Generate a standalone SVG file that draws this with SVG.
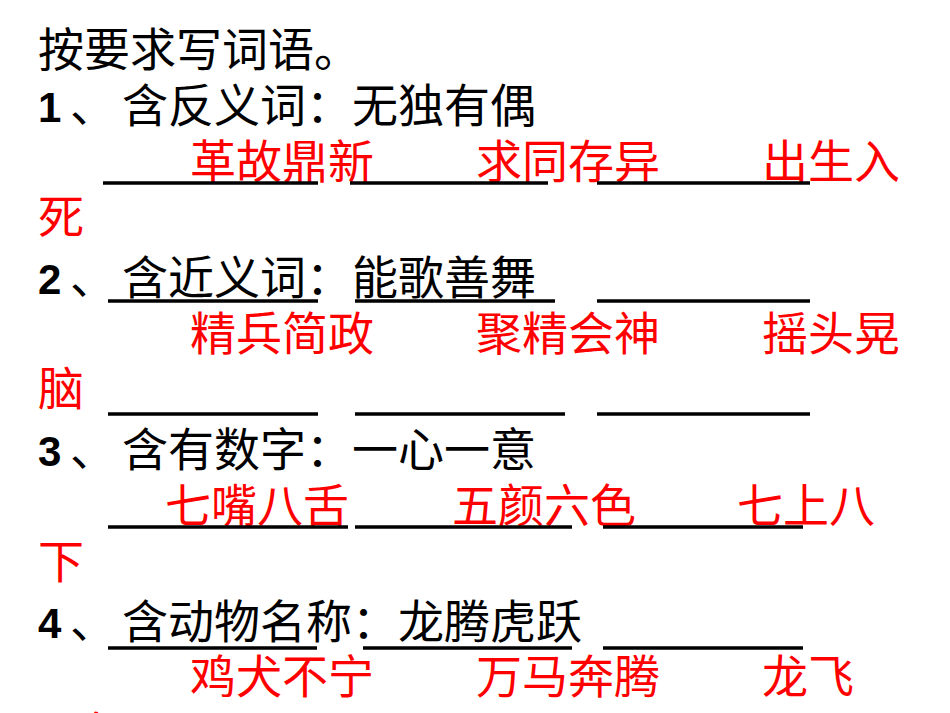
<svg xmlns="http://www.w3.org/2000/svg" width="950" height="713" viewBox="0 0 950 713">
<style>
text{font-family:"Noto Sans CJK SC","Liberation Sans",sans-serif;font-size:46px}
.k{fill:#000}
.r{fill:#ff0000}
.n{font-family:"Liberation Sans",sans-serif;font-weight:bold;font-size:42px}
line{stroke:#000;stroke-width:3.5}
</style>
<rect width="950" height="713" fill="#fff"/>
<g id="title"><text class="k" x="38" y="66">按要求写词语。</text></g>
<g id="q1">
<text class="k n" x="38" y="122">1</text><text class="k" x="70" y="122">、</text><text class="k" x="122" y="122">含反义词：无独有偶</text>
<text class="r" x="190" y="178">革故鼎新</text>
<text class="r" x="476" y="178">求同存异</text>
<text class="r" x="762" y="178">出生入</text>
<text class="r" x="38" y="233">死</text>
</g>
<g id="q2">
<text class="k n" x="38" y="294">2</text><text class="k" x="70" y="294">、</text><text class="k" x="122" y="294">含近义词：能歌善舞</text>
<text class="r" x="190" y="350">精兵简政</text>
<text class="r" x="476" y="350">聚精会神</text>
<text class="r" x="762" y="350">摇头晃</text>
<text class="r" x="38" y="405">脑</text>
</g>
<g id="q3">
<text class="k n" x="38" y="466">3</text><text class="k" x="70" y="466">、</text><text class="k" x="122" y="466">含有数字：一心一意</text>
<text class="r" x="165" y="522">七嘴八舌</text>
<text class="r" x="452" y="522">五颜六色</text>
<text class="r" x="737" y="522">七上八</text>
<text class="r" x="38" y="578">下</text>
</g>
<g id="q4">
<text class="k n" x="38" y="638">4</text><text class="k" x="70" y="638">、</text><text class="k" x="122" y="638">含动物名称：龙腾虎跃</text>
<text class="r" x="190" y="693">鸡犬不宁</text>
<text class="r" x="476" y="693">万马奔腾</text>
<text class="r" x="762" y="693">龙飞</text>
<text class="r" x="38" y="750">凤舞</text>
</g>
<g id="connectors">
<line x1="103" y1="183" x2="318" y2="183"/><line x1="350" y1="183" x2="548" y2="183"/><line x1="597" y1="183" x2="810" y2="183"/>
<line x1="108" y1="301" x2="318" y2="301"/><line x1="355" y1="301" x2="555" y2="301"/><line x1="597" y1="301" x2="810" y2="301"/>
<line x1="108" y1="414" x2="318" y2="414"/><line x1="355" y1="414" x2="565" y2="414"/><line x1="597" y1="414" x2="810" y2="414"/>
<line x1="108" y1="527" x2="348" y2="527"/><line x1="355" y1="527" x2="572" y2="527"/><line x1="603" y1="527" x2="803" y2="527"/>
<line x1="108" y1="648" x2="317" y2="648"/><line x1="363" y1="648" x2="572" y2="648"/><line x1="603" y1="648" x2="803" y2="648"/>
</g>
</svg>
